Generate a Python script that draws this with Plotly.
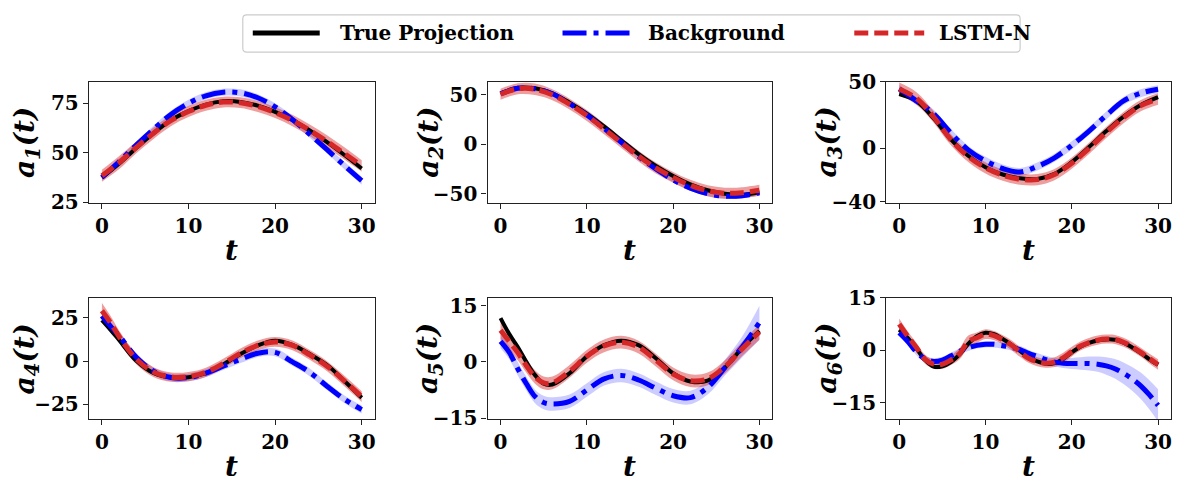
import plotly.graph_objects as go

W, H = 1177, 490

# ---------------- data ----------------
t1 = [0, 2, 4, 6, 8, 10, 12, 14, 16, 18, 20, 22, 24, 26, 28, 30]
true1 = [37.3, 44.5, 52.5, 60, 66.5, 71, 74.3, 76, 75.7, 73.8, 70.7, 66.5, 61.2, 55.3, 48.8, 42]
bg1 = [37.5, 45.5, 54, 62, 69.5, 75, 78.8, 80.6, 80.3, 77.8, 73.2, 66.8, 59.3, 51.5, 43.5, 35.8]
bg1_band = [1.6, 1.7, 1.8, 1.8, 1.8, 1.8, 1.8, 1.8, 1.8, 1.8, 1.8, 1.8, 1.8, 1.8, 1.9, 2.0]
lstm1 = [38.3, 45, 52.8, 60, 66.3, 70.8, 74, 75.6, 75.3, 73.4, 70.3, 66.3, 61.3, 55.7, 49.6, 43.3]
lstm1_band = [3.0, 3.3, 3.0, 2.9, 2.8, 2.8, 2.8, 2.7, 2.7, 2.8, 2.8, 2.9, 3.0, 3.1, 3.1, 2.9]

t2 = [0, 2, 4, 6, 8, 10, 12, 14, 16, 18, 20, 22, 24, 26, 28, 30]
true2 = [51.5, 57, 56.5, 51.5, 42, 31, 18, 4, -10, -22, -32, -40.5, -46.5, -50, -51, -48.5]
bg2 = [51, 56.5, 56, 51, 41, 29.5, 16, 2, -12.5, -25, -36, -44.5, -50, -52.5, -52, -49]
bg2_band = [2.5, 2.5, 2.5, 2.5, 2.5, 2.5, 2.5, 2.5, 2.5, 2.5, 2.5, 2.5, 2.5, 2.5, 2.5, 2.5]
lstm2 = [50.5, 56, 55.5, 50, 40.5, 29, 15.5, 1.5, -12, -24, -33.5, -41.5, -47, -49.5, -49, -46.5]
lstm2_band = [5.5, 5.5, 5.8, 5.5, 5.5, 5.6, 5.5, 5.4, 5.5, 5.5, 5.4, 5.5, 5.5, 5.6, 5.5, 5.5]

t3 = [0, 2, 4, 6, 8, 10, 12, 14, 16, 18, 20, 22, 24, 26, 28, 30]
true3 = [40.7, 35.5, 22.5, 6.7, -5.5, -14, -19.5, -22.3, -22.8, -19, -10.2, 1, 13, 23.8, 32.4, 38.3]
bg3 = [44.5, 35.5, 26, 11.5, -1.1, -9.3, -15, -17.6, -13.5, -7, 2.3, 13, 24.7, 35.5, 41.3, 44.3]
bg3_band = [3, 3, 3, 3, 3, 3, 3, 3, 3, 3, 3, 3, 3, 3, 3, 3]
lstm3 = [44.5, 37.5, 23.5, 6.5, -6, -14.5, -20, -23, -23.3, -19.5, -11, 0, 12, 23, 32, 37]
lstm3_band = [4.8, 4.6, 4.3, 4.2, 4.2, 4.2, 4.2, 4.2, 4.2, 4.2, 4.2, 4.2, 4.2, 4.2, 4.2, 4.3]

t4 = [0, 1, 2, 4, 6, 8, 10, 12, 14, 16, 18, 20, 22, 24, 26, 28, 30]
true4 = [23.6, 18, 12, 0, -7, -9.5, -9.3, -7, -2, 4, 9, 11.7, 9.3, 4, -2.3, -11.5, -21.2]
bg4 = [26, 20, 14.5, 2, -6, -9.5, -9.5, -7, -3, 1, 4.5, 5, -0.5, -6.5, -14.5, -22, -28]
bg4_band = [2.2, 2.2, 2.2, 2.2, 2.2, 2.2, 2.2, 2.2, 2.2, 2.2, 2.2, 2.2, 2.2, 2.2, 2.2, 2.2, 2.3]
lstm4 = [29, 22, 14, 1, -6.5, -9.3, -9, -6.5, -1.5, 4.5, 9, 11, 9, 3.5, -3, -11.5, -20.5]
lstm4_band = [4.5, 4.0, 3.5, 3.0, 2.8, 2.7, 2.7, 2.7, 2.8, 2.8, 2.8, 2.8, 2.8, 2.8, 2.9, 3.0, 3.1]

t5 = [0, 1, 2, 3, 4, 5, 6, 8, 10, 12, 14, 16, 18, 20, 22, 24, 26, 28, 30]
true5 = [11.7, 7.5, 4, 0, -3.5, -5.8, -6, -3, 1.5, 4.5, 5.7, 4.5, 1, -3, -5.2, -5, -1.5, 3.8, 8.3]
bg5 = [5.5, 2.6, -1.8, -5.8, -9.2, -10.8, -11.2, -10.5, -7.5, -4.5, -3.6, -4.8, -7, -9, -9.5, -6.8, -1.5, 4, 10.5]
bg5_band = [1.8, 1.8, 1.8, 1.8, 1.8, 1.8, 1.8, 1.8, 1.8, 1.8, 1.8, 1.8, 1.8, 1.8, 1.8, 1.9, 2.1, 2.8, 4.5]
lstm5 = [8.5, 5.5, 2.5, -1, -4, -5.6, -5.6, -2.5, 1.5, 4.3, 5.3, 4, 0.5, -3.2, -5, -4.5, -1.3, 3.5, 8]
lstm5_band = [2.4, 2.2, 2.0, 1.9, 1.8, 1.7, 1.7, 1.7, 1.7, 1.7, 1.7, 1.7, 1.7, 1.7, 1.7, 1.7, 1.8, 1.9, 2.1]

t6 = list(range(0, 31))
true6 = [5.9, 3.5, 0.5, -2.8, -4.7, -4.6, -3.4, -1.2, 1.8, 4, 5, 4.6, 3.2, 1.6, -0.2, -2,
         -3.2, -3.9, -3.7, -2.5, -0.6, 1, 2.1, 2.8, 3.1, 3, 2.2, 0.8, -0.8, -2.6, -4.2]
bg6 = [5, 2.5, -0.5, -2.5, -3.2, -2.8, -1.6, -0.3, 0.7, 1.4, 1.7, 1.7, 1.3, 0.8, 0.2, -0.9,
       -1.8, -2.7, -3.4, -3.7, -3.8, -3.8, -3.8, -4, -4.5, -5.3, -6.6, -8.2, -10.2, -12.8, -15.8]
bg6_band = [0.9, 0.9, 0.9, 0.9, 0.9, 0.9, 0.9, 0.9, 0.9, 0.9, 0.9, 0.9, 0.9, 0.9, 1.0, 1.0,
            1.0, 1.1, 1.2, 1.4, 1.6, 1.8, 2.0, 2.2, 2.5, 2.8, 3.1, 3.4, 3.8, 4.2, 4.6]
lstm6 = [7.5, 4, 0.8, -2.6, -4, -4, -2.8, -1, 2.5, 3.6, 4.6, 4.2, 3, 1.5, -0.5, -2.3,
         -3.3, -3.7, -3.4, -2.2, -0.4, 1.2, 2.2, 2.9, 3.2, 3.1, 2.3, 1, -0.6, -2.4, -4.1]
lstm6_band = [1.6, 1.4, 1.3, 1.3, 1.3, 1.3, 1.4, 1.6, 1.7, 1.5, 1.4, 1.3, 1.3, 1.4, 1.4, 1.3,
              1.3, 1.3, 1.4, 1.5, 1.4, 1.3, 1.3, 1.3, 1.3, 1.3, 1.3, 1.3, 1.3, 1.4, 1.5]

x_ticks = [0, 10, 20, 30]
y_ticks = [[25, 50, 75], [-50, 0, 50], [-40, 0, 50], [-25, 0, 25], [-15, 0, 15], [-15, 0, 15]]
y_ranges = [[24.7, 86], [-59, 63.3], [-40.5, 50], [-33.4, 36.4], [-15.2, 17.1], [-19.7, 15]]
y_labels = ["1", "2", "3", "4", "5", "6"]
legend_names = ["True Projection", "Background", "LSTM-N"]

panels = [
    (t1, true1, bg1, bg1_band, lstm1, lstm1_band),
    (t2, true2, bg2, bg2_band, lstm2, lstm2_band),
    (t3, true3, bg3, bg3_band, lstm3, lstm3_band),
    (t4, true4, bg4, bg4_band, lstm4, lstm4_band),
    (t5, true5, bg5, bg5_band, lstm5, lstm5_band),
    (t6, true6, bg6, bg6_band, lstm6, lstm6_band),
]

# ---------------- styles ----------------
BLACK = "#000000"
BLUE = "#0000ff"
RED = "#d62728"
BLUE_FILL = "rgba(0,0,255,0.2)"
RED_FILL = "rgba(214,39,40,0.45)"
BLUE_DASH = "24px,7px,5px,7px"
RED_DASH = "14px,6px"
FONT = "DejaVu Serif"

col_px = [(89, 375), (488, 773), (887, 1172)]
row_px = [(73, 200), (300, 427)]

fig = go.Figure()


def band(fig, t, m, h, color, xa, ya):
    lo = [a - b for a, b in zip(m, h)]
    hi = [a + b for a, b in zip(m, h)]
    fig.add_trace(go.Scatter(x=t, y=lo, mode="lines", line=dict(width=0, shape="spline"),
                             showlegend=False, hoverinfo="skip", xaxis=xa, yaxis=ya))
    fig.add_trace(go.Scatter(x=t, y=hi, mode="lines", line=dict(width=0, shape="spline"),
                             fill="tonexty", fillcolor=color, showlegend=False,
                             hoverinfo="skip", xaxis=xa, yaxis=ya))


layout = dict(
    width=W, height=H, margin=dict(l=0, r=0, t=0, b=0, pad=0),
    paper_bgcolor="white", plot_bgcolor="white", showlegend=False,
)
annotations = []
shapes = []

for i, (t, tr, bg, bgb, ls, lsb) in enumerate(panels):
    r, c = divmod(i, 3)
    xa = "x" if i == 0 else f"x{i+1}"
    ya = "y" if i == 0 else f"y{i+1}"
    band(fig, t, bg, bgb, BLUE_FILL, xa, ya)
    band(fig, t, ls, lsb, RED_FILL, xa, ya)
    fig.add_trace(go.Scatter(x=t, y=tr, mode="lines", name=legend_names[0],
                             line=dict(color=BLACK, width=4, shape="spline"),
                             showlegend=False, xaxis=xa, yaxis=ya))
    fig.add_trace(go.Scatter(x=t, y=bg, mode="lines", name=legend_names[1],
                             line=dict(color=BLUE, width=5, dash=BLUE_DASH, shape="spline"),
                             showlegend=False, xaxis=xa, yaxis=ya))
    fig.add_trace(go.Scatter(x=t, y=ls, mode="lines", name=legend_names[2],
                             line=dict(color=RED, width=5, dash=RED_DASH, shape="spline"),
                             showlegend=False, xaxis=xa, yaxis=ya))

    x0, x1 = col_px[c]
    y0, y1 = row_px[r]
    axcommon = dict(showline=True, mirror=True, linecolor="#222", linewidth=1.3,
                    ticks="outside", ticklen=5, tickwidth=1.3, tickcolor="#222",
                    showgrid=False, zeroline=False,
                    tickfont=dict(family=FONT, size=20, color="black", weight="bold"))
    xname = "xaxis" if i == 0 else f"xaxis{i+1}"
    yname = "yaxis" if i == 0 else f"yaxis{i+1}"
    layout[xname] = dict(domain=[x0 / W, x1 / W], range=[-1.5, 31.5], tickvals=x_ticks,
                         anchor=ya, **axcommon)
    layout[yname] = dict(domain=[1 - y1 / H, 1 - y0 / H], range=y_ranges[i],
                         tickvals=y_ticks[i], anchor=xa, **axcommon)

    ylab_x = [26, 430, 829][c]
    annotations.append(dict(
        x=ylab_x / W, y=1 - (y0 + y1) / 2 / H, xref="paper", yref="paper",
        text=f"a<sub>{y_labels[i]}</sub>(t)", showarrow=False,
        textangle=-90, xanchor="center", yanchor="middle",
        font=dict(family=FONT, size=28, color="black", weight="bold", style="italic")))
    annotations.append(dict(
        x=(x0 + x1) / 2 / W, y=1 - (y1 + 50) / H, xref="paper", yref="paper",
        text="t", showarrow=False, xanchor="center", yanchor="middle",
        font=dict(family=FONT, size=28, color="black", weight="bold", style="italic")))

# ---------------- legend (drawn) ----------------
lx0, lx1, ly0, ly1, rad = 243, 1021, 3, 42, 4


def px(x):
    return x / W


def py(y):
    return 1 - y / H


path = (f"M {px(lx0+rad)},{py(ly0)} L {px(lx1-rad)},{py(ly0)} "
        f"Q {px(lx1)},{py(ly0)} {px(lx1)},{py(ly0+rad)} L {px(lx1)},{py(ly1-rad)} "
        f"Q {px(lx1)},{py(ly1)} {px(lx1-rad)},{py(ly1)} L {px(lx0+rad)},{py(ly1)} "
        f"Q {px(lx0)},{py(ly1)} {px(lx0)},{py(ly1-rad)} L {px(lx0)},{py(ly0+rad)} "
        f"Q {px(lx0)},{py(ly0)} {px(lx0+rad)},{py(ly0)} Z")
shapes.append(dict(type="path", path=path, xref="paper", yref="paper",
                   line=dict(color="#cccccc", width=1.2), fillcolor="white"))
leg_items = [
    (253, 320, 338, BLACK, "solid"),
    (563, 633, 647, BLUE, BLUE_DASH),
    (855, 925, 938, RED, RED_DASH),
]
ly = 22
for (a, b, tx, col, dash), name in zip(leg_items, legend_names):
    shapes.append(dict(type="line", xref="paper", yref="paper", x0=px(a), x1=px(b),
                       y0=py(ly), y1=py(ly), line=dict(color=col, width=5, dash=dash)))
    annotations.append(dict(x=px(tx), y=py(ly), xref="paper", yref="paper", text=name,
                            showarrow=False, xanchor="left", yanchor="middle",
                            font=dict(family=FONT, size=20, color="black", weight="bold")))

layout["annotations"] = annotations
layout["shapes"] = shapes
fig.update_layout(**layout)
fig.write_html("out.html", config={"displayModeBar": False},
               post_script="document.body.style.margin='0';document.body.style.padding='0';")
